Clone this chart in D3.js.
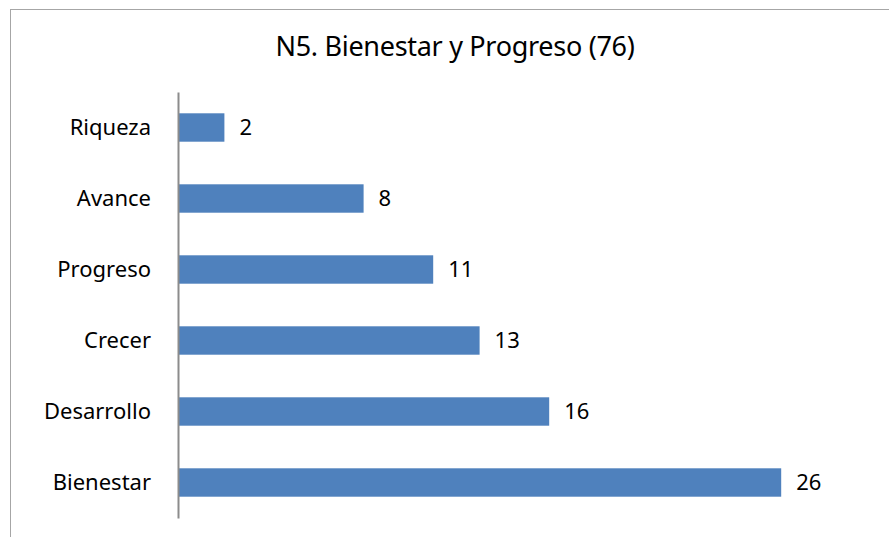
<!DOCTYPE html>
<html>
<head>
<meta charset="utf-8">
<script src="https://cdn.jsdelivr.net/npm/d3@7"></script>
<style>
  body { margin: 0; background: #fff; }
  text { font-family: "Noto Sans", "DejaVu Sans", sans-serif; fill: #000; }
</style>
</head>
<body>
<div id="content"></div>
<script>
var categories = ['Riqueza', 'Avance', 'Progreso', 'Crecer', 'Desarrollo', 'Bienestar'];
var values = [2, 8, 11, 13, 16, 26];
var title = 'N5. Bienestar y Progreso (76)';

var width = 889, height = 537;
var svg = d3.select('#content').append('svg')
    .attr('width', width)
    .attr('height', height);

// chart frame
svg.append('rect')
    .attr('x', 10.5).attr('y', 9.5)
    .attr('width', 900).attr('height', 600)
    .attr('fill', '#fff')
    .attr('stroke', '#a6a6a6');

var x = d3.scaleLinear().domain([0, 30]).range([178, 874]);
var y = d3.scaleBand().domain(categories).range([92, 518]).paddingInner(0.6).paddingOuter(0.3);

svg.append('text')
    .attr('x', 455).attr('y', 56)
    .attr('text-anchor', 'middle')
    .style('font-size', '27px')
    .style('letter-spacing', '-0.3px')
    .text(title);

svg.selectAll('rect.bar')
    .data(values)
    .enter().append('rect')
    .attr('class', 'bar')
    .attr('x', x(0))
    .attr('y', function(d, i) { return y(categories[i]); })
    .attr('width', function(d) { return x(d) - x(0); })
    .attr('height', y.bandwidth())
    .attr('fill', '#4f81bd');

svg.selectAll('text.val')
    .data(values)
    .enter().append('text')
    .attr('class', 'val')
    .attr('x', function(d) { return x(d) + 15; })
    .attr('y', function(d, i) { return y(categories[i]) + y.bandwidth() / 2; })
    .attr('dy', '0.35em')
    .style('font-size', '22px')
    .text(function(d) { return d; });

var axis = svg.append('g')
    .attr('transform', 'translate(' + x(0) + ',0)')
    .call(d3.axisLeft(y).tickSize(0).tickPadding(27));
axis.select('.domain').attr('stroke', '#8c8c8c').attr('stroke-width', 2);
axis.selectAll('text')
    .style('font-size', '22px')
    .style('font-family', '"Noto Sans", "DejaVu Sans", sans-serif')
    .attr('fill', '#000');
</script>
</body>
</html>
